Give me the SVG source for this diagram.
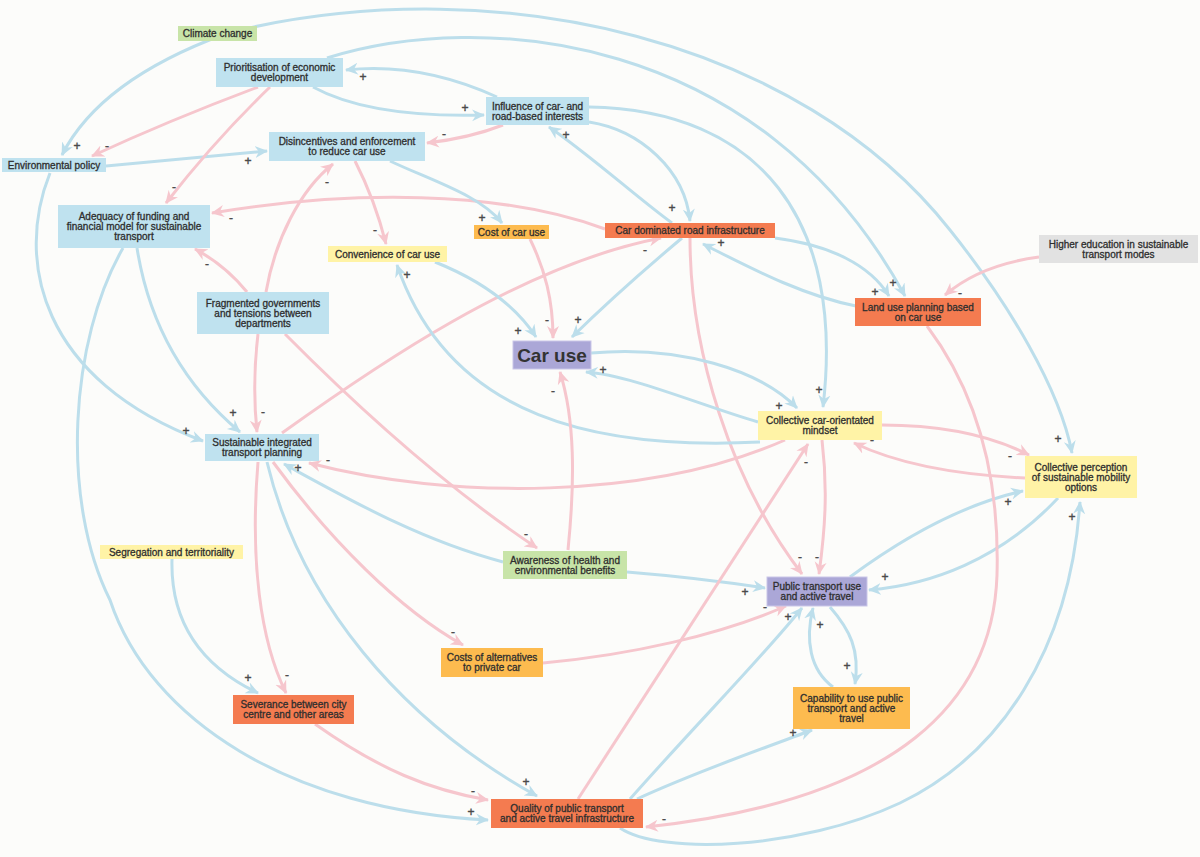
<svg xmlns="http://www.w3.org/2000/svg" width="1200" height="857" viewBox="0 0 1200 857">
<style>
.b{fill:none;stroke:#bcdeeb;stroke-width:3;marker-end:url(#ab)}
.p{fill:none;stroke:#f6c6cd;stroke-width:3;marker-end:url(#ap)}
.nb{fill:#bfe2ef}.ng{fill:#c8e4a8}.ny{fill:#fff3a6}.no{fill:#fdbb4f}.nr{fill:#f47b50}.nx{fill:#e2e2e2}.nv{fill:#aba7d7;stroke:#c9c6e8;stroke-width:1}
text{font-family:"Liberation Sans",Arial,sans-serif;font-size:10px;fill:#2e2e2e;stroke:#2e2e2e;stroke-width:0.3;text-anchor:middle}
.s text{font-size:12px;fill:#4a4a4a;stroke:#4a4a4a;stroke-width:0.4;dominant-baseline:central}
</style>
<defs>
<marker id="ab" markerUnits="userSpaceOnUse" markerWidth="14" markerHeight="14" viewBox="0 0 14 14" refX="12" refY="7" orient="auto"><path d="M0,1 L13,7 L0,13 L4,7 z" fill="#bcdeeb"/></marker>
<marker id="ap" markerUnits="userSpaceOnUse" markerWidth="14" markerHeight="14" viewBox="0 0 14 14" refX="12" refY="7" orient="auto"><path d="M0,1 L13,7 L0,13 L4,7 z" fill="#f6c6cd"/></marker>
</defs>
<rect width="1200" height="857" fill="#fcfcfa"/>
<g id="connectors">
<path class="b" d="M225 34 Q100 80 62 155"/>
<path class="b" d="M240 30 C500 -30 800 40 950 230 C1010 305 1060 390 1072 453"/>
<path class="b" d="M106 166 Q190 158 267 151"/>
<path class="b" d="M50 173 C15 260 40 380 203 441"/>
<path class="p" d="M258 87 Q170 120 92 156"/>
<path class="p" d="M270 87 Q215 140 166 203"/>
<path class="b" d="M313 87 Q370 118 484 115"/>
<path class="b" d="M497 97 Q420 62 346 70"/>
<path class="p" d="M503 125 Q470 138 427 143"/>
<path class="b" d="M327 58 C480 10 760 30 905 296"/>
<path class="b" d="M589 107 C760 110 845 220 823 407"/>
<path class="b" d="M589 122 C640 130 685 170 690 221"/>
<path class="b" d="M672 223 C640 200 590 155 549 127"/>
<path class="p" d="M605 229 C500 190 350 190 212 213"/>
<path class="b" d="M775 238 C830 245 870 265 889 296"/>
<path class="b" d="M856 306 C800 295 745 265 703 244"/>
<path class="p" d="M1039 257 Q980 265 945 295"/>
<path class="b" d="M682 238 Q620 290 572 337"/>
<path class="p" d="M690 238 C690 350 730 480 802 574"/>
<path class="p" d="M247 292 Q225 265 195 249"/>
<path class="p" d="M266 292 C275 240 300 190 333 164"/>
<path class="p" d="M258 334 Q252 385 257 432"/>
<path class="p" d="M285 334 Q420 470 537 548"/>
<path class="p" d="M282 433 C370 370 520 265 661 238"/>
<path class="p" d="M258 462 C250 560 260 640 286 693"/>
<path class="b" d="M267 462 C300 600 400 720 537 796"/>
<path class="p" d="M273 462 C330 540 400 610 463 645"/>
<path class="b" d="M137 248 C150 330 190 390 240 432"/>
<path class="b" d="M123 248 C70 340 60 500 110 600 C150 720 290 810 488 820"/>
<path class="b" d="M172 559 C170 630 210 670 258 693"/>
<path class="p" d="M315 724 C380 770 430 790 488 800"/>
<path class="p" d="M355 161 Q375 200 386 244"/>
<path class="b" d="M390 161 C430 180 480 195 502 223"/>
<path class="p" d="M530 239 C545 270 553 300 553 338"/>
<path class="b" d="M435 262 C480 280 515 305 536 337"/>
<path class="b" d="M760 442 C600 450 450 420 397 265"/>
<path class="p" d="M568 550 C575 480 575 420 560 372"/>
<path class="b" d="M503 562 C420 540 350 500 284 464"/>
<path class="b" d="M627 572 Q700 578 765 588"/>
<path class="b" d="M591 353 C680 345 760 370 797 408"/>
<path class="b" d="M758 422 C700 405 630 375 586 372"/>
<path class="p" d="M785 440 C650 500 450 500 309 463"/>
<path class="p" d="M882 425 C940 425 990 435 1029 455"/>
<path class="p" d="M1025 478 C960 475 900 465 854 443"/>
<path class="p" d="M822 440 C828 490 825 530 819 574"/>
<path class="b" d="M1058 498 C1000 560 930 585 869 590"/>
<path class="b" d="M850 577 C900 540 960 505 1023 491"/>
<path class="p" d="M543 663 C630 655 720 635 786 606"/>
<path class="b" d="M630 799 C700 720 760 660 802 608"/>
<path class="b" d="M833 687 C810 670 805 640 813 608"/>
<path class="b" d="M830 607 C850 630 860 650 855 684"/>
<path class="b" d="M637 799 C700 770 760 750 812 730"/>
<path class="p" d="M578 799 Q690 625 808 444"/>
<path class="p" d="M927 326 C975 390 1000 470 997 575 C993 700 900 800 646 827"/>
<path class="b" d="M620 828 C660 855 800 850 900 803 C1000 755 1070 650 1080 502"/>
</g>
<g id="n-climate"><rect class="ng" x="178" y="26" width="79" height="15"/><text x="217.5" y="37">Climate change</text></g>
<g id="n-prior"><rect class="nb" x="216" y="58" width="127" height="29"/><text x="279.5" y="71">Prioritisation of economic</text><text x="279.5" y="81">development</text></g>
<g id="n-env"><rect class="nb" x="2" y="158" width="104" height="14"/><text x="54" y="168.5">Environmental policy</text></g>
<g id="n-disinc"><rect class="nb" x="269" y="132" width="156" height="29"/><text x="347" y="145">Disincentives and enforcement</text><text x="347" y="155">to reduce car use</text></g>
<g id="n-influence"><rect class="nb" x="486" y="97" width="103" height="28"/><text x="537.5" y="109.5">Influence of car- and</text><text x="537.5" y="119.5">road-based interests</text></g>
<g id="n-adequacy"><rect class="nb" x="58" y="205" width="152" height="43"/><text x="134" y="220">Adequacy of funding and</text><text x="134" y="230">financial model for sustainable</text><text x="134" y="240">transport</text></g>
<g id="n-cost"><rect class="no" x="474" y="225" width="75" height="14"/><text x="511.5" y="235.5">Cost of car use</text></g>
<g id="n-conv"><rect class="ny" x="328" y="246" width="119" height="16"/><text x="387.5" y="257.5">Convenience of car use</text></g>
<g id="n-cardom"><rect class="nr" x="605" y="223" width="170" height="15"/><text x="690" y="234">Car dominated road infrastructure</text></g>
<g id="n-higher"><rect class="nx" x="1039" y="235" width="159" height="28"/><text x="1118.5" y="247.5">Higher education in sustainable</text><text x="1118.5" y="257.5">transport modes</text></g>
<g id="n-landuse"><rect class="nr" x="855" y="298" width="126" height="28"/><text x="918" y="310.5">Land use planning based</text><text x="918" y="320.5">on car use</text></g>
<g id="n-caruse"><rect class="nv" x="513" y="341" width="78" height="28"/><text x="552" y="362" style="font-size:19px;font-weight:bold;fill:#333;stroke:none">Car use</text></g>
<g id="n-frag"><rect class="nb" x="197" y="292" width="132" height="42"/><text x="263" y="306.5">Fragmented governments</text><text x="263" y="316.5">and tensions between</text><text x="263" y="326.5">departments</text></g>
<g id="n-sitp"><rect class="nb" x="205" y="434" width="114" height="27"/><text x="262" y="446">Sustainable integrated</text><text x="262" y="456">transport planning</text></g>
<g id="n-mindset"><rect class="ny" x="758" y="411" width="124" height="29"/><text x="820" y="424">Collective car-orientated</text><text x="820" y="434">mindset</text></g>
<g id="n-percep"><rect class="ny" x="1025" y="456" width="112" height="42"/><text x="1081" y="470.5">Collective perception</text><text x="1081" y="480.5">of sustainable mobility</text><text x="1081" y="490.5">options</text></g>
<g id="n-segreg"><rect class="ny" x="100" y="545" width="143" height="14"/><text x="171.5" y="555.5">Segregation and territoriality</text></g>
<g id="n-aware"><rect class="ng" x="503" y="551" width="124" height="28"/><text x="565" y="563.5">Awareness of health and</text><text x="565" y="573.5">environmental benefits</text></g>
<g id="n-ptuse"><rect class="nv" x="767" y="577" width="100" height="29"/><text x="817" y="590">Public transport use</text><text x="817" y="600">and active travel</text></g>
<g id="n-costalt"><rect class="no" x="441" y="648" width="102" height="29"/><text x="492" y="661">Costs of alternatives</text><text x="492" y="671">to private car</text></g>
<g id="n-capab"><rect class="no" x="793" y="687" width="117" height="42"/><text x="851.5" y="701.5">Capability to use public</text><text x="851.5" y="711.5">transport and active</text><text x="851.5" y="721.5">travel</text></g>
<g id="n-sever"><rect class="nr" x="233" y="695" width="121" height="29"/><text x="293.5" y="708">Severance between city</text><text x="293.5" y="718">centre and other areas</text></g>
<g id="n-quality"><rect class="nr" x="491" y="799" width="152" height="29"/><text x="567" y="812">Quality of public transport</text><text x="567" y="822">and active travel infrastructure</text></g>
<g class="s" id="signs">
<text x="77" y="146">+</text><text x="107" y="146">-</text><text x="248" y="161">+</text><text x="174" y="187">-</text><text x="231" y="218">-</text><text x="207" y="264">-</text>
<text x="363" y="77">+</text><text x="465" y="108">+</text><text x="444" y="134">-</text><text x="327" y="182">-</text><text x="375" y="230">-</text><text x="482" y="218">+</text>
<text x="407" y="275">+</text><text x="566" y="135">+</text><text x="672" y="208">+</text><text x="721" y="243">+</text><text x="645" y="250">-</text><text x="875" y="292">+</text>
<text x="893" y="283">+</text><text x="960" y="293">-</text><text x="518" y="331">+</text><text x="547" y="320">-</text><text x="578" y="320">+</text><text x="553" y="391">-</text>
<text x="603" y="370">+</text><text x="779" y="406">+</text><text x="819" y="390">+</text><text x="872" y="440">-</text><text x="806" y="462">-</text><text x="1010" y="456">-</text>
<text x="1058" y="439">+</text><text x="1008" y="502">+</text><text x="1072" y="517">+</text><text x="233" y="413">+</text><text x="263" y="412">-</text><text x="186" y="431">+</text>
<text x="328" y="460">-</text><text x="298" y="468">+</text><text x="526" y="534">-</text><text x="800" y="557">-</text><text x="817" y="557">-</text><text x="745" y="592">+</text>
<text x="885" y="577">+</text><text x="765" y="607">-</text><text x="788" y="617">+</text><text x="820" y="625">+</text><text x="847" y="666">+</text><text x="793" y="733">+</text>
<text x="248" y="678">+</text><text x="287" y="675">-</text><text x="453" y="632">-</text><text x="526" y="782">+</text><text x="473" y="791">-</text><text x="471" y="812">+</text>
<text x="664" y="819">-</text>
</g>
</svg>
